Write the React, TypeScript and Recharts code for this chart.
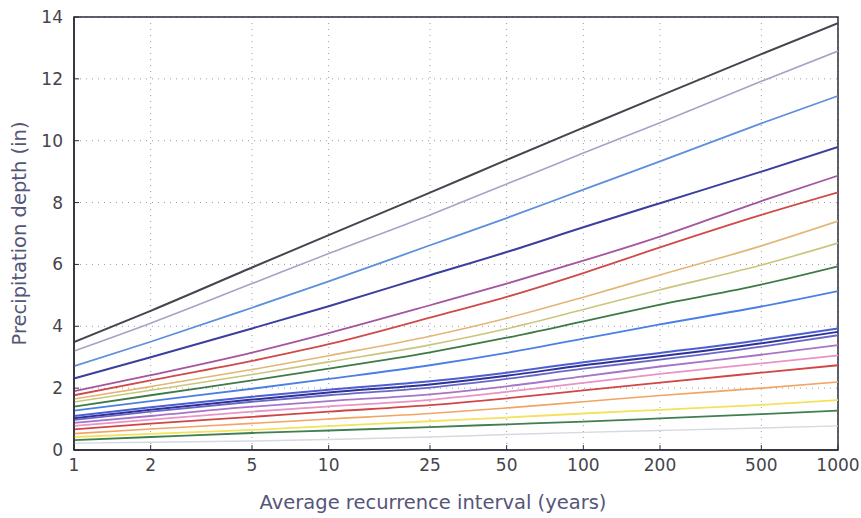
import { LineChart, Line, XAxis, YAxis, CartesianGrid, ReferenceArea } from 'recharts';

const RETURN_PERIODS = [1, 2, 5, 10, 25, 50, 100, 200, 500, 1000];
const Y_TICKS = [0, 2, 4, 6, 8, 10, 12, 14];

// depth (in) at each return period, one array per curve, top to bottom
const darkGray = [3.49, 4.5, 5.9, 6.95, 8.32, 9.38, 10.42, 11.45, 12.8, 13.8];
const lavender = [3.2, 4.1, 5.38, 6.35, 7.6, 8.6, 9.6, 10.58, 11.92, 12.9];
const skyBlue = [2.71, 3.5, 4.6, 5.45, 6.62, 7.5, 8.42, 9.33, 10.56, 11.45];
const navy = [2.31, 3.0, 3.93, 4.65, 5.65, 6.4, 7.2, 7.98, 9.0, 9.8];
const magenta = [1.9, 2.42, 3.15, 3.78, 4.68, 5.38, 6.12, 6.9, 8.05, 8.87];
const red = [1.77, 2.25, 2.88, 3.42, 4.28, 4.95, 5.72, 6.55, 7.6, 8.33];
const tan = [1.65, 2.05, 2.6, 3.05, 3.68, 4.26, 4.94, 5.66, 6.6, 7.4];
const khaki = [1.55, 1.93, 2.44, 2.85, 3.4, 3.92, 4.54, 5.18, 5.98, 6.69];
const green = [1.4, 1.77, 2.25, 2.63, 3.16, 3.63, 4.16, 4.7, 5.35, 5.94];
const blue = [1.27, 1.58, 1.98, 2.3, 2.74, 3.14, 3.6, 4.06, 4.64, 5.14];
const royal = [1.1, 1.38, 1.72, 1.95, 2.22, 2.5, 2.84, 3.14, 3.56, 3.93];
const indigo = [1.03, 1.3, 1.63, 1.86, 2.12, 2.4, 2.74, 3.03, 3.45, 3.82];
const slate = [0.97, 1.24, 1.56, 1.77, 2.02, 2.3, 2.63, 2.92, 3.34, 3.71];
const violet = [0.88, 1.1, 1.4, 1.58, 1.8, 2.06, 2.38, 2.7, 3.08, 3.39];
const pink = [0.78, 0.98, 1.24, 1.41, 1.62, 1.88, 2.17, 2.46, 2.8, 3.06];
const brick = [0.67, 0.85, 1.07, 1.24, 1.45, 1.67, 1.93, 2.18, 2.5, 2.74];
const orange = [0.53, 0.68, 0.86, 1.0, 1.18, 1.36, 1.56, 1.76, 2.0, 2.2];
const yellow = [0.42, 0.52, 0.65, 0.77, 0.93, 1.05, 1.18, 1.3, 1.46, 1.61];
const pine = [0.32, 0.42, 0.55, 0.63, 0.74, 0.83, 0.92, 1.02, 1.16, 1.27];
const mist = [0.22, 0.25, 0.29, 0.34, 0.42, 0.5, 0.57, 0.63, 0.71, 0.78];

const SERIES = [
  { key: 'darkGray', values: darkGray, color: '#45454f', width: 2 },
  { key: 'lavender', values: lavender, color: '#a8a2c4', width: 1.6 },
  { key: 'skyBlue', values: skyBlue, color: '#5c8fdc', width: 1.8 },
  { key: 'navy', values: navy, color: '#3a3f9e', width: 2 },
  { key: 'magenta', values: magenta, color: '#a4559e', width: 1.8 },
  { key: 'red', values: red, color: '#d04a4a', width: 1.8 },
  { key: 'tan', values: tan, color: '#e3b675', width: 1.6 },
  { key: 'khaki', values: khaki, color: '#c9c67c', width: 1.6 },
  { key: 'green', values: green, color: '#3d7a48', width: 1.8 },
  { key: 'blue', values: blue, color: '#4a7fe6', width: 1.8 },
  { key: 'royal', values: royal, color: '#4d5fd0', width: 2 },
  { key: 'indigo', values: indigo, color: '#2f3196', width: 2 },
  { key: 'slate', values: slate, color: '#6a66c6', width: 1.8 },
  { key: 'violet', values: violet, color: '#a774c9', width: 1.8 },
  { key: 'pink', values: pink, color: '#ea93c6', width: 1.8 },
  { key: 'brick', values: brick, color: '#d24545', width: 1.8 },
  { key: 'orange', values: orange, color: '#f2a463', width: 1.6 },
  { key: 'yellow', values: yellow, color: '#f1e35c', width: 1.8 },
  { key: 'pine', values: pine, color: '#3f7f50', width: 1.8 },
  { key: 'mist', values: mist, color: '#d6d8e2', width: 1.4 },
];

const data = RETURN_PERIODS.map((ri, i) => {
  const row: Record<string, number> = { ri };
  SERIES.forEach((s) => {
    row[s.key] = s.values[i];
  });
  return row;
});

const FONT = '"DejaVu Sans", sans-serif';
const SPINE = '#2c2c3a';

export default function App() {
  return (
    <div style={{ position: 'absolute', left: 0, top: 0, background: '#fff', fontFamily: FONT }}>
      <LineChart width={861} height={518} data={data} margin={{ top: 17, right: 23, bottom: 0, left: 0 }}>
        <CartesianGrid stroke="#9a9aa6" strokeDasharray="1 5" />
        <XAxis
          dataKey="ri"
          type="number"
          scale="log"
          domain={[1, 1000]}
          ticks={RETURN_PERIODS}
          allowDataOverflow
          height={68}
          tickSize={-5}
          tickMargin={14}
          axisLine={{ stroke: SPINE, strokeWidth: 1.5 }}
          tickLine={{ stroke: SPINE }}
          tick={{ fill: '#44444c', fontSize: 17, fontFamily: FONT }}
          label={{
            value: 'Average recurrence interval (years)',
            position: 'insideBottom',
            offset: 9,
            dx: -23,
            fill: '#55557a',
            fontSize: 19.5,
            fontFamily: FONT,
          }}
        />
        <YAxis
          type="number"
          domain={[0, 14]}
          ticks={Y_TICKS}
          allowDataOverflow
          width={74}
          tickSize={-5}
          tickMargin={16}
          axisLine={{ stroke: SPINE, strokeWidth: 1.5 }}
          tickLine={{ stroke: SPINE }}
          tick={{ fill: '#44444c', fontSize: 17, fontFamily: FONT }}
          label={{
            value: 'Precipitation depth (in)',
            angle: -90,
            position: 'insideLeft',
            offset: 19,
            fill: '#55557a',
            fontSize: 19.5,
            fontFamily: FONT,
            style: { textAnchor: 'middle' },
          }}
        />
        {SERIES.map((s) => (
          <Line
            key={s.key}
            type="monotone"
            dataKey={s.key}
            stroke={s.color}
            strokeWidth={s.width}
            dot={false}
            isAnimationActive={false}
          />
        ))}
        <ReferenceArea
          x1={1}
          x2={1000}
          y1={0}
          y2={14}
          fill="none"
          fillOpacity={0}
          stroke={SPINE}
          strokeWidth={1.5}
        />
      </LineChart>
    </div>
  );
}
